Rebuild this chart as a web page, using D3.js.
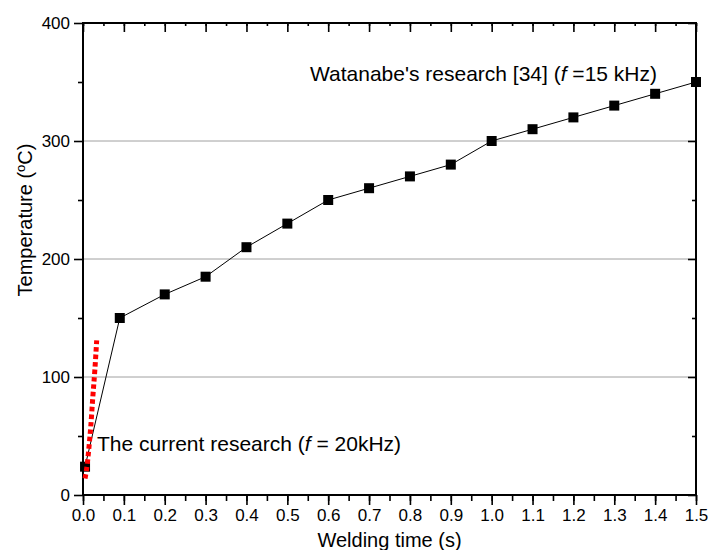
<!DOCTYPE html>
<html>
<head>
<meta charset="utf-8">
<script src="https://cdn.jsdelivr.net/npm/d3@7"></script>
<style>
  body { margin: 0; background: #fff; }
  svg text { font-family: Arial, "Liberation Sans", sans-serif; fill: #000; }
</style>
</head>
<body>
<div id="chart"></div>
<script>
// Watanabe's data, black squares
var watTime = [0.005, 0.09, 0.2, 0.3, 0.4, 0.5, 0.6, 0.7, 0.8, 0.9, 1.0, 1.1, 1.2, 1.3, 1.4, 1.5];
var watTemp = [24, 150, 170, 185, 210, 230, 250, 260, 270, 280, 300, 310, 320, 330, 340, 350];

// current research, red dotted curve
var curTime = [0.005, 0.008, 0.011, 0.015, 0.019, 0.024, 0.029, 0.0335];
var curTemp = [14, 20, 28, 42, 58, 83, 106, 131];

var xTicks = [0, 0.1, 0.2, 0.3, 0.4, 0.5, 0.6, 0.7, 0.8, 0.9, 1.0, 1.1, 1.2, 1.3, 1.4, 1.5];
var yTicks = [0, 100, 200, 300, 400];
var xMinor = d3.range(0, 31).map(function(i) { return i * 0.05; });
var yMinor = [50, 150, 250, 350];
var gridVals = [100, 200, 300];

var width = 708, height = 550;
var margin = {left: 83, top: 23, right: 12, bottom: 55};
var iw = width - margin.left - margin.right;
var ih = height - margin.top - margin.bottom;

var svg = d3.select("#chart").append("svg")
    .attr("width", width)
    .attr("height", height);

var g = svg.append("g")
    .attr("transform", "translate(" + margin.left + "," + margin.top + ")");

var x = d3.scaleLinear().domain([0, 1.5]).range([0, iw]);
var y = d3.scaleLinear().domain([0, 400]).range([ih, 0]);

// grid lines
g.selectAll("line.grid")
    .data(gridVals)
    .enter().append("line")
    .attr("class", "grid")
    .attr("x1", 0).attr("x2", iw)
    .attr("y1", function(d) { return y(d); })
    .attr("y2", function(d) { return y(d); })
    .attr("stroke", "#a0a0a0")
    .attr("stroke-width", 1);

function styleAxis(sel, fs) {
    sel.select(".domain").remove();
    sel.selectAll(".tick line").attr("stroke", "#000").attr("stroke-width", 1.6);
    sel.selectAll(".tick text").style("font-size", fs + "px");
}

// minor ticks
g.append("g").attr("transform", "translate(0," + ih + ")")
    .call(d3.axisBottom(x).tickValues(xMinor).tickSize(6).tickFormat(""))
    .call(styleAxis, 0);
g.append("g")
    .call(d3.axisTop(x).tickValues(xMinor).tickSize(-3).tickFormat(""))
    .call(styleAxis, 0);
g.append("g")
    .call(d3.axisLeft(y).tickValues(yMinor).tickSize(5).tickFormat(""))
    .call(styleAxis, 0);
g.append("g").attr("transform", "translate(" + iw + ",0)")
    .call(d3.axisRight(y).tickValues(yMinor).tickSize(-4).tickFormat(""))
    .call(styleAxis, 0);

// major ticks
g.append("g").attr("transform", "translate(0," + ih + ")")
    .call(d3.axisBottom(x).tickValues(xTicks).tickSize(10).tickPadding(4).tickFormat(d3.format(".1f")))
    .call(styleAxis, 17);
g.append("g")
    .call(d3.axisTop(x).tickValues(xTicks).tickSize(-9).tickFormat(""))
    .call(styleAxis, 0);
g.append("g")
    .call(d3.axisLeft(y).tickValues(yTicks).tickSize(9).tickPadding(4).tickFormat(d3.format("d")))
    .call(styleAxis, 17);
g.append("g").attr("transform", "translate(" + iw + ",0)")
    .call(d3.axisRight(y).tickValues(yTicks).tickSize(-8).tickFormat(""))
    .call(styleAxis, 0);

// frame
g.append("rect")
    .attr("x", 0).attr("y", 0)
    .attr("width", iw).attr("height", ih)
    .attr("fill", "none")
    .attr("stroke", "#000")
    .attr("stroke-width", 2);

// Watanabe line and markers
var wat = watTime.map(function(t, i) { return [t, watTemp[i]]; });
var line = d3.line()
    .x(function(d) { return x(d[0]); })
    .y(function(d) { return y(d[1]); });

g.append("path")
    .datum(wat)
    .attr("d", line)
    .attr("fill", "none")
    .attr("stroke", "#000")
    .attr("stroke-width", 1);

g.selectAll("rect.pt")
    .data(wat)
    .enter().append("rect")
    .attr("class", "pt")
    .attr("x", function(d) { return x(d[0]) - 5; })
    .attr("y", function(d) { return y(d[1]) - 5; })
    .attr("width", 10).attr("height", 10)
    .attr("fill", "#000");

// current research
var cur = curTime.map(function(t, i) { return [t, curTemp[i]]; });
g.append("path")
    .datum(cur)
    .attr("d", d3.line().curve(d3.curveMonotoneX)
        .x(function(d) { return x(d[0]); })
        .y(function(d) { return y(d[1]); }))
    .attr("fill", "none")
    .attr("stroke", "#ff0000")
    .attr("stroke-width", 5)
    .attr("stroke-dasharray", "4.5,3");

// annotations
var t1 = svg.append("text")
    .attr("x", 310).attr("y", 81)
    .style("font-size", "21px");
t1.append("tspan").text("Watanabe's research [34] (");
t1.append("tspan").style("font-style", "italic").text("f");
t1.append("tspan").text(" =15 kHz)");

var t2 = svg.append("text")
    .attr("x", 97).attr("y", 451)
    .style("font-size", "21px");
t2.append("tspan").text("The current research (");
t2.append("tspan").style("font-style", "italic").text("f");
t2.append("tspan").text(" = 20kHz)");

// axis titles
svg.append("text")
    .attr("x", margin.left + iw / 2)
    .attr("y", 547)
    .attr("text-anchor", "middle")
    .style("font-size", "20px")
    .text("Welding time (s)");

var yt = svg.append("text")
    .attr("transform", "translate(32,220) rotate(-90)")
    .attr("text-anchor", "middle")
    .style("font-size", "20px");
yt.append("tspan").text("Temperature (");
yt.append("tspan").attr("dy", -7).style("font-size", "13px").text("o");
yt.append("tspan").attr("dy", 7).text("C)");
</script>
</body>
</html>
